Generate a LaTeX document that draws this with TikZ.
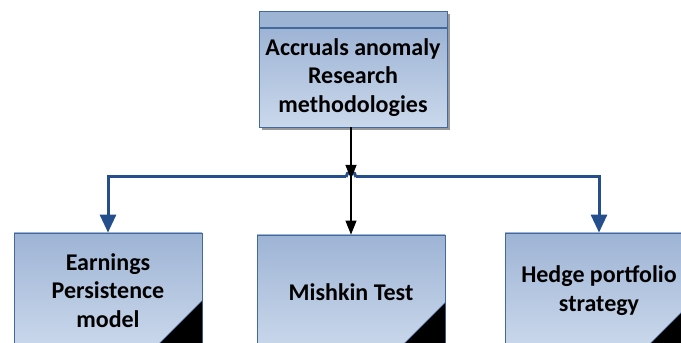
\documentclass[tikz,border=0pt]{standalone}
\usepackage{fontspec}
\setmainfont{Carlito}
\usetikzlibrary{arrows.meta,backgrounds}

\definecolor{boxtop}{RGB}{158,180,213}
\definecolor{boxbot}{RGB}{202,216,235}
\definecolor{boxline}{RGB}{66,104,156}
\definecolor{linkblue}{RGB}{36,79,140}

\begin{document}
\begin{tikzpicture}[x=1pt,y=1pt,
    box/.style={draw=boxline, line width=0.8pt, top color=boxtop,
      bottom color=boxbot, minimum width=188pt, inner sep=0pt,
      align=center, font=\fontsize{24}{28.5}\selectfont\bfseries},
    bluearrow/.style={draw=linkblue, line width=3pt,
      -{Triangle[width=16pt,length=18pt]}},
    blackarrow/.style={draw=black, line width=1.1pt,
      -{Triangle[width=11pt,length=14pt]}}]
  \useasboundingbox (0,0) rectangle (681,343);
  \clip (0,0) rectangle (681,343);

  % top box with its header strip
  \node[box, minimum height=99pt]             (top)  at (353,265.5)
    {Accruals anomaly\\Research\\methodologies};
  \node[box, minimum height=16pt, anchor=south,
        top color=boxtop, bottom color=boxtop] (head) at (top.north) {};
  \begin{scope}[on background layer]
    \fill[black!40] ([shift={(3,-3)}]head.north west)
      rectangle ([shift={(3,-3)}]top.south east);
  \end{scope}

  % the three methods
  \node[box, minimum height=115pt] (earn)    at (108,52.5)
    {Earnings\\Persistence\\model};
  \node[box, minimum height=115pt] (mishkin) at (351,50.5) {Mishkin Test};
  \node[box, minimum height=115pt] (hedge)   at (599,52.5)
    {Hedge portfolio\\strategy};

  \foreach \n in {earn,mishkin,hedge}
    \filldraw[fill=black, draw=boxline, line width=0.6pt]
      ([yshift=48pt]\n.south east) -- (\n.south east)
      -- ([xshift=-48pt]\n.south east) -- cycle;

  % connectors
  \coordinate (hub) at (351,166);
  \draw[bluearrow] ([xshift=-5pt]hub) -| (earn.north);
  \draw[bluearrow] ([xshift=5pt]hub)  -| (hedge.north);
  \draw[draw=linkblue, line width=3pt]
    ([xshift=-5pt]hub) arc[start angle=180, end angle=0, radius=5pt];
  \draw[blackarrow] (top.south -| hub) -- ([yshift=-2pt]hub);
  \draw[blackarrow] (hub) -- (mishkin.north);
\end{tikzpicture}
\end{document}
